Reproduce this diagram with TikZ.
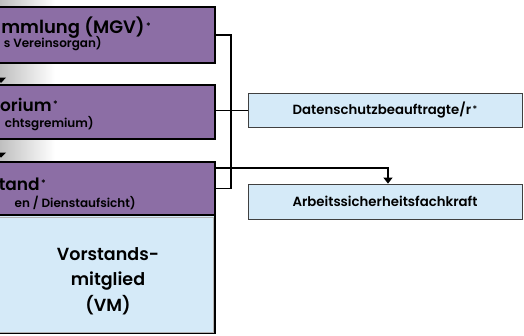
\documentclass[tikz,border=0pt]{standalone}
\usepackage{fontspec}
\setmainfont{Poppins}[BoldFont={Poppins SemiBold}]
\usetikzlibrary{arrows.meta}
\definecolor{lila}{HTML}{8C6EA5}
\definecolor{hblau}{HTML}{D5EAF8}
\newcommand\stern[1]{\hspace{1.5pt}\raisebox{#1}{\fontsize{9}{9}\selectfont *}}
\begin{document}
\begin{tikzpicture}[x=1pt,y=-1pt,
  orgbox/.style={draw=black, line width=2.8pt, fill=lila, inner sep=0pt, minimum width=240pt},
  bodybox/.style={draw=black, line width=2.8pt, fill=hblau, inner sep=0pt, minimum width=240pt},
  infobox/.style={draw=black!75, line width=0.8pt, fill=hblau, minimum width=274pt, inner sep=0pt, font=\bfseries\fontsize{13.3}{15}\selectfont},
  titel/.style={anchor=base east, inner sep=0pt, font=\bfseries\fontsize{18}{20}\selectfont},
  untertitel/.style={anchor=base east, inner sep=0pt, font=\bfseries\fontsize{12}{14}\selectfont},
  conn/.style={line width=1.2pt, draw=black}]
\useasboundingbox (0,0) rectangle (524,335);
\clip (0,0) rectangle (524,335);
% gradient strips
\shade[left color=black!25, right color=white] (0,0) rectangle (55,5.5);
\shade[left color=black!25, right color=white] (0,64.5) rectangle (55,84);
\shade[left color=black!25, right color=white] (0,139.5) rectangle (55,161);
\fill (-4,77.5) -- (6,77.5) -- (1,83) -- cycle;
\fill (-4,152.5) -- (6,152.5) -- (1,157.5) -- cycle;
% boxes
\node[orgbox, minimum height=56pt] (mgv) at (95,35) {};
\node[orgbox, minimum height=54pt] (kur) at (95,112) {};
\node[orgbox, minimum height=53pt] (vs) at (95,188.5) {};
\node[bodybox, minimum height=118pt] (vm) at (95,274) {};
\draw[black!30, line width=0.6pt] (-10,217.2) rectangle (213,331.8);
% texts
\node[titel] (t1) at (151,33) {mmlung (MGV)\stern{4pt}};
\node[untertitel] (s1) at (102,47) {s Vereinsorgan)};
\node[titel, font=\bfseries\fontsize{17}{20}\selectfont] (t2) at (58,111) {orium\stern{4pt}};
\node[untertitel] (s2) at (94,127.5) {chtsgremium)};
\node[titel, font=\bfseries\fontsize{17}{20}\selectfont] (t3) at (46,190) {tand\stern{4pt}};
\node[untertitel] (s3) at (136,207) {en / Dienstaufsicht)};
\node[align=center, inner sep=0pt, font=\bfseries\fontsize{17.5}{25.5}\selectfont] (vmt) at (108,281) {Vorstands-\\mitglied\\(VM)};
% right boxes
\node[infobox, minimum height=34pt] (dsb) at (385,110.5) {Datenschutzbeauftragte/r\stern{2.5pt}};
\node[infobox, minimum height=35pt] (asf) at (385,201.5) {Arbeitssicherheitsfachkraft};
% connectors
\draw[conn] (mgv.east) -- ++(14.5,0) |- (vs.east);
\draw[conn] (kur.east |- dsb.west) -- (dsb.west);
\draw[conn, -{Triangle[width=9pt,length=6pt]}] (vs.east |- 0,168) -| ([xshift=3pt]asf.north);
\end{tikzpicture}
\end{document}
